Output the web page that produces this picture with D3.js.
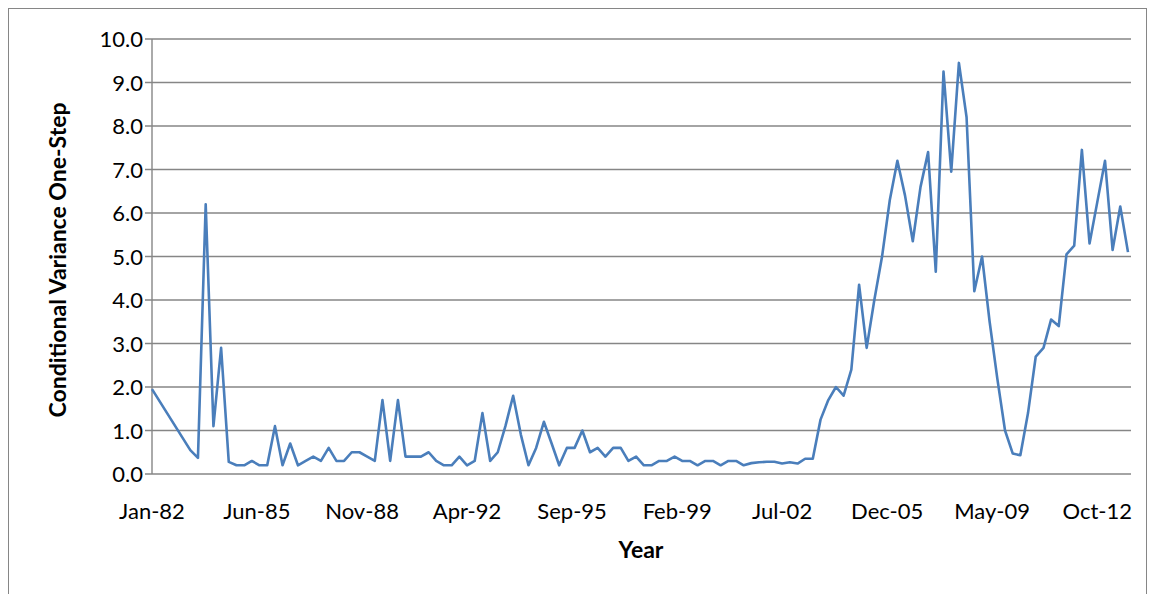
<!DOCTYPE html>
<html>
<head>
<meta charset="utf-8">
<script src="https://cdn.jsdelivr.net/npm/d3@7"></script>
<style>
  body { margin: 0; background: #fff; }
  text { font-family: Lato, "Open Sans", sans-serif; }
</style>
</head>
<body>
<svg id="chart" width="1152" height="594"></svg>
<script>
// first two observations, then quarterly from Jul-83
const earlyDates = ['1982-01-01', '1983-04-01'];
const earlyValues = [1.95, 0.55];
const quarterlyStart = '1983-07-01';
const quarterlyValues = [
  0.37, 6.2, 1.1, 2.9, 0.28, 0.2, 0.2, 0.3, 0.2, 0.2,
  1.1, 0.2, 0.7, 0.2, 0.3, 0.4, 0.3, 0.6, 0.3, 0.3,
  0.5, 0.5, 0.4, 0.3, 1.7, 0.3, 1.7, 0.4, 0.4, 0.4,
  0.5, 0.3, 0.2, 0.2, 0.4, 0.2, 0.3, 1.4, 0.3, 0.5,
  1.1, 1.8, 0.9, 0.2, 0.6, 1.2, 0.7, 0.2, 0.6, 0.6,
  1.0, 0.5, 0.6, 0.4, 0.6, 0.6, 0.3, 0.4, 0.2, 0.2,
  0.3, 0.3, 0.4, 0.3, 0.3, 0.2, 0.3, 0.3, 0.2, 0.3,
  0.3, 0.2, 0.25, 0.27, 0.28, 0.28, 0.24, 0.27, 0.24, 0.35,
  0.35, 1.25, 1.7, 2.0, 1.8, 2.4, 4.35, 2.9, 4.0, 5.0,
  6.3, 7.2, 6.4, 5.35, 6.6, 7.4, 4.65, 9.25, 6.95, 9.45,
  8.2, 4.2, 5.0, 3.5, 2.2, 1.0, 0.47, 0.43, 1.4, 2.7,
  2.9, 3.55, 3.4, 5.05, 5.25, 7.45, 5.3, 6.25, 7.2, 5.15,
  6.15, 5.1
];
const tickLabels = ['Jan-82', 'Jun-85', 'Nov-88', 'Apr-92', 'Sep-95',
  'Feb-99', 'Jul-02', 'Dec-05', 'May-09', 'Oct-12'];
const yTicks = [0, 1, 2, 3, 4, 5, 6, 7, 8, 9, 10];

const parse = d3.timeParse('%Y-%m-%d');
const parseTick = d3.timeParse('%b-%y');
const data = earlyDates.map((d, i) => ({ date: parse(d), value: earlyValues[i] }))
  .concat(quarterlyValues.map((v, i) => ({
    date: d3.timeMonth.offset(parse(quarterlyStart), i * 3), value: v
  })));

const plot = { left: 152, right: 1128, top: 39, bottom: 474 };
const svg = d3.select('#chart');

svg.append('rect')
  .attr('x', 8.5).attr('y', 8.5).attr('width', 1138).attr('height', 600)
  .attr('fill', 'none').attr('stroke', '#868686');

const x = d3.scaleTime()
  .domain([data[0].date, data[data.length - 1].date])
  .range([plot.left, plot.right]);
const y = d3.scaleLinear().domain([0, 10]).range([plot.bottom, plot.top]);

// gridlines + y labels
svg.append('g').selectAll('line').data(yTicks).join('line')
  .attr('x1', plot.left - 7).attr('x2', 1131)
  .attr('y1', (d) => y(d)).attr('y2', (d) => y(d))
  .attr('stroke', '#868686').attr('stroke-width', 1.4);
svg.append('g').selectAll('text').data(yTicks).join('text')
  .attr('x', plot.left - 9).attr('y', (d) => y(d) + 8)
  .attr('text-anchor', 'end').attr('font-size', 22)
  .text((d) => d3.format('.1f')(d));

svg.append('line')
  .attr('x1', plot.left).attr('x2', plot.left)
  .attr('y1', plot.top).attr('y2', plot.bottom)
  .attr('stroke', '#868686').attr('stroke-width', 1.4);

// x labels
svg.append('g').selectAll('text').data(tickLabels).join('text')
  .attr('x', (d) => x(parseTick(d)))
  .attr('y', 519)
  .attr('text-anchor', 'middle').attr('font-size', 22)
  .text((d) => d);

svg.append('path')
  .datum(data)
  .attr('fill', 'none')
  .attr('stroke', '#4a7ebb')
  .attr('stroke-width', 2.6)
  .attr('stroke-linejoin', 'round')
  .attr('d', d3.line().x((d) => x(d.date)).y((d) => y(d.value)));

svg.append('text')
  .attr('x', 641).attr('y', 558)
  .attr('text-anchor', 'middle').attr('font-size', 23).attr('font-weight', 'bold')
  .text('Year');
svg.append('text')
  .attr('transform', `translate(66,260) rotate(-90)`)
  .attr('text-anchor', 'middle').attr('font-size', 23).attr('font-weight', 'bold')
  .text('Conditional Variance One-Step');
</script>
</body>
</html>
